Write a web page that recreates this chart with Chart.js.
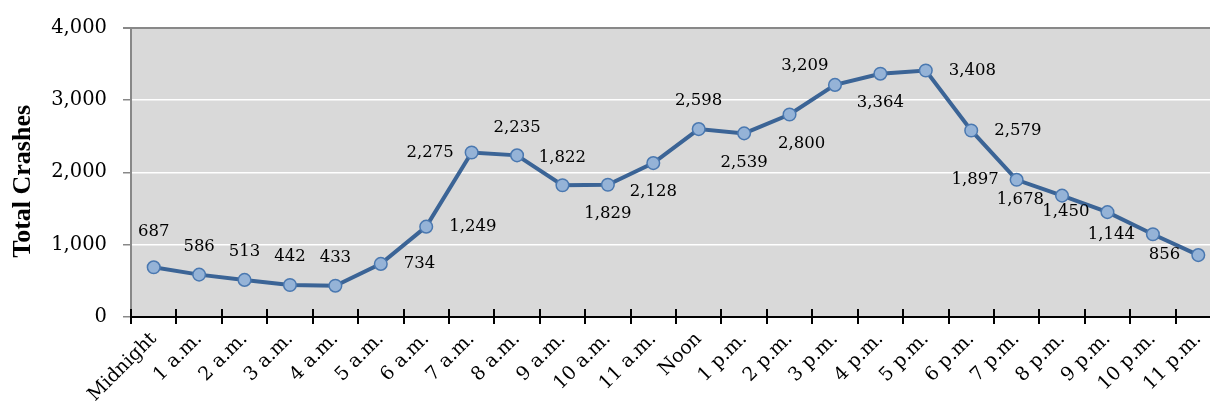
<!DOCTYPE html>
<html>
<head>
<meta charset="utf-8">
<script src="https://cdn.jsdelivr.net/npm/chart.js@4/dist/chart.umd.min.js"></script>
<style>
html,body{margin:0;padding:0;background:#fff;overflow:hidden;width:1210px;height:410px;}
canvas{display:block;}
</style>
</head>
<body>
<canvas id="c" width="1232" height="410"></canvas>
<script>
const categories = ["Midnight","1 a.m.","2 a.m.","3 a.m.","4 a.m.","5 a.m.","6 a.m.","7 a.m.","8 a.m.","9 a.m.","10 a.m.","11 a.m.","Noon","1 p.m.","2 p.m.","3 p.m.","4 p.m.","5 p.m.","6 p.m.","7 p.m.","8 p.m.","9 p.m.","10 p.m.","11 p.m."];
const totalCrashes = [687,586,513,442,433,734,1249,2275,2235,1822,1829,2128,2598,2539,2800,3209,3364,3408,2579,1897,1678,1450,1144,856];
const yTicks = [0,1000,2000,3000,4000];
const axisTitle = "Total Crashes";

// label placement (style, separate from data)
const labelPlace = ["above","above","above","above","above","right","right","left","above","above","below","below","above","below","below","aboveleft","below","right","right","left","left","left","left","left"];
const labelAdjust = {0:[0,-8],14:[12,0],20:[0,4]};

const SERIF = '"DejaVu Serif", serif';

const bgPlugin = {
  id:'bg',
  beforeDraw(chart){
    const {ctx, chartArea:a} = chart;
    ctx.save();
    ctx.fillStyle = '#d9d9d9';
    ctx.fillRect(a.left, a.top, a.right-a.left, a.bottom-a.top);
    ctx.restore();
  }
};

const decoPlugin = {
  id:'deco',
  afterDraw(chart){
    const {ctx, chartArea:a} = chart;
    const xs = chart.scales.x;
    ctx.save();
    ctx.strokeStyle = '#000';
    ctx.lineWidth = 2;
    for(let i=0;i<=categories.length;i++){
      const x = Math.round(xs.getPixelForValue(i-0.5));
      ctx.beginPath();
      ctx.moveTo(x, a.bottom-8);
      ctx.lineTo(x, a.bottom+7);
      ctx.stroke();
    }
    ctx.fillStyle = '#000';
    ctx.font = 'bold 26px "Liberation Serif", serif';
    ctx.textAlign = 'center';
    ctx.textBaseline = 'middle';
    ctx.translate(23, (a.top+a.bottom)/2 + 9);
    ctx.rotate(-Math.PI/2);
    ctx.fillText(axisTitle, 0, 0);
    ctx.restore();

    const meta = chart.getDatasetMeta(0);
    ctx.save();
    ctx.font = '16.5px ' + SERIF;
    ctx.fillStyle = '#000';
    ctx.textBaseline = 'middle';
    meta.data.forEach((pt,i)=>{
      const txt = totalCrashes[i].toLocaleString('en-US');
      let x = pt.x, y = pt.y;
      const p = labelPlace[i];
      if(p==='above'){ ctx.textAlign='center'; y -= 28; }
      else if(p==='below'){ ctx.textAlign='center'; y += 29; }
      else if(p==='right'){ ctx.textAlign='left'; x += 23; }
      else if(p==='left'){ ctx.textAlign='right'; x -= 18; }
      else if(p==='aboveleft'){ ctx.textAlign='center'; x -= 30; y -= 19; }
      const adj = labelAdjust[i];
      if(adj){ x += adj[0]; y += adj[1]; }
      ctx.fillText(txt, x, y);
    });
    ctx.restore();
  }
};

new Chart(document.getElementById('c'), {
  type:'line',
  data:{
    labels:categories,
    datasets:[{
      data:totalCrashes,
      borderColor:'#3b6496',
      borderWidth:4,
      pointRadius:6.3,
      pointHoverRadius:6.3,
      pointBackgroundColor:'#95b3d7',
      pointBorderColor:'#4a78b0',
      pointBorderWidth:1.5,
      tension:0,
      clip:false
    }]
  },
  options:{
    responsive:false,
    animation:false,
    events:[],
    layout:{padding:{top:23,right:11,bottom:0,left:0}},
    plugins:{legend:{display:false},tooltip:{enabled:false}},
    scales:{
      x:{
        offset:true,
        grid:{display:true, offset:true, drawOnChartArea:false, drawTicks:false},
        border:{display:true, color:'#000', width:2},
        ticks:{
          autoSkip:false,
          maxRotation:45, minRotation:45,
          padding:11,
          color:'#000',
          font:{family:SERIF, size:19}
        },
        afterFit(s){ s.height = 93; }
      },
      y:{
        min:0, max:4000,
        afterBuildTicks(s){ s.ticks = yTicks.map(v=>({value:v})); },
        grid:{
          color:(c)=> c.tick && c.tick.value===4000 ? '#888' : (c.tick && c.tick.value===0 ? 'rgba(0,0,0,0)' : '#ffffff'),
          lineWidth:(c)=> c.tick && c.tick.value===4000 ? 2 : 1.5,
          tickColor:'#888',
          tickLength:8
        },
        border:{display:true, color:'#888', width:2},
        ticks:{
          padding:16,
          color:'#000',
          font:{family:SERIF, size:19.5},
          callback:(v)=> Number(v).toLocaleString('en-US')
        },
        afterFit(s){ s.width = 131; }
      }
    }
  },
  plugins:[bgPlugin, decoPlugin]
});
</script>
</body>
</html>
